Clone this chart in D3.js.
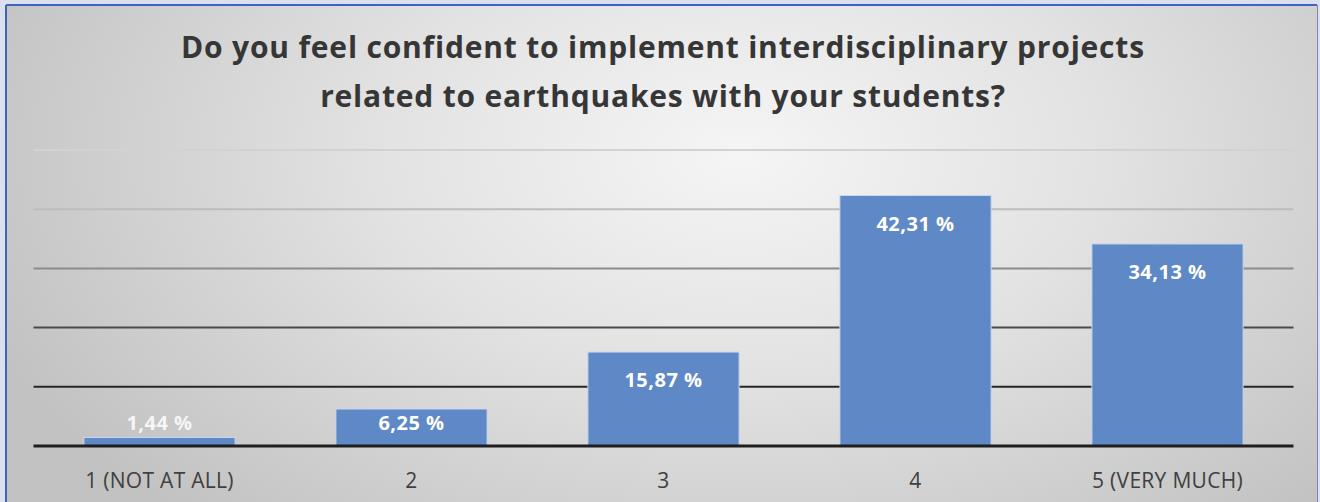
<!DOCTYPE html>
<html>
<head>
<meta charset="utf-8">
<script src="https://cdn.jsdelivr.net/npm/d3@7"></script>
<style>
html,body{margin:0;padding:0;background:#dcdff0;}
svg{display:block;}
</style>
</head>
<body>
<svg id="chart" width="1320" height="502"></svg>
<script>
const categories = ["1 (NOT AT ALL)", "2", "3", "4", "5 (VERY MUCH)"];
const values = [1.44, 6.25, 15.87, 42.31, 34.13];
const valueLabels = ["1,44 %", "6,25 %", "15,87 %", "42,31 %", "34,13 %"];
const gridTicks = [0, 10, 20, 30, 40, 50];
const titleLines = ["Do you feel confident to implement interdisciplinary projects",
                    "related to earthquakes with your students?"];

const W = 1320, H = 502;
const svg = d3.select("#chart");
const defs = svg.append("defs");
const rg = defs.append("radialGradient").attr("id", "bg")
  .attr("cx", 0.56).attr("cy", 0.3).attr("r", 0.62)
  .attr("gradientTransform", "translate(0.56,0.3) scale(1,1.6) translate(-0.56,-0.3)");
rg.append("stop").attr("offset", "0%").attr("stop-color", "#f5f5f5");
rg.append("stop").attr("offset", "45%").attr("stop-color", "#e2e2e2");
rg.append("stop").attr("offset", "100%").attr("stop-color", "#c2c2c2");

// frame
svg.append("rect").attr("x", 0).attr("y", 0).attr("width", W).attr("height", H).attr("fill", "#dcdff0");
svg.append("rect").attr("x", 6).attr("y", 5).attr("width", 1311).attr("height", H - 5).attr("fill", "url(#bg)");
svg.append("line").attr("x1", 6).attr("x2", 1317).attr("y1", 5).attr("y2", 5).attr("stroke", "#3f64bd").attr("stroke-width", 2);
svg.append("line").attr("x1", 6).attr("x2", 6).attr("y1", 5).attr("y2", H).attr("stroke", "#3f64bd").attr("stroke-width", 2);
svg.append("line").attr("x1", 1317.5).attr("x2", 1317.5).attr("y1", 5).attr("y2", H).attr("stroke", "#7e86b6").attr("stroke-width", 1);

const plot = {left: 33.5, right: 1293.5, top: 150, bottom: 446};
const x = d3.scaleBand().domain(categories).range([plot.left, plot.right]).paddingInner(0.4).paddingOuter(0.2);
const y = d3.scaleLinear().domain([0, 50]).range([plot.bottom, plot.top]);

// gridlines with darkening colour toward baseline
const gridColor = d3.scaleLinear().domain([0, 10, 20, 30, 40, 50])
  .range(["#1e1e1e", "#262626", "#4a4a4a", "#8c8c8c", "#bdbdbd", "#d2d2d2"]);
svg.append("g").selectAll("line").data(gridTicks.filter(t => t > 0)).join("line")
  .attr("x1", plot.left).attr("x2", plot.right)
  .attr("y1", d => y(d)).attr("y2", d => y(d))
  .attr("stroke", d => gridColor(d)).attr("stroke-width", 2);

// bars
svg.append("g").selectAll("rect").data(values).join("rect")
  .attr("x", (d, i) => x(categories[i]))
  .attr("y", d => y(d))
  .attr("width", x.bandwidth())
  .attr("height", d => y(0) - y(d))
  .attr("fill", "#5e88c6")
  .attr("stroke", "#c9d8ef").attr("stroke-width", 1);

// baseline
svg.append("line").attr("x1", plot.left).attr("x2", plot.right)
  .attr("y1", y(0)).attr("y2", y(0)).attr("stroke", gridColor(0)).attr("stroke-width", 3);

// value labels
svg.append("g").selectAll("text").data(values).join("text")
  .attr("x", (d, i) => x(categories[i]) + x.bandwidth() / 2)
  .attr("y", d => (y(0) - y(d) > 56 ? y(d) + 28 : y(0) - 23))
  .attr("dy", "0.35em")
  .attr("text-anchor", "middle")
  .attr("font-family", "'Open Sans', sans-serif")
  .attr("font-weight", 700)
  .attr("font-size", 20)
  .attr("letter-spacing", 0.5)
  .attr("fill", "#ffffff")
  .attr("fill-opacity", d => (y(0) - y(d) > 20 ? 1 : 0.85))
  .text((d, i) => valueLabels[i]);

// category axis
const xAxis = d3.axisBottom(x).tickSize(0).tickPadding(27);
const gx = svg.append("g").attr("transform", `translate(0,${plot.bottom})`).call(xAxis);
gx.select(".domain").remove();
gx.selectAll("text")
  .attr("font-family", "'Open Sans', sans-serif")
  .attr("font-size", 21)
  .attr("letter-spacing", 0.3)
  .attr("fill", "#404040");

// title
svg.append("g").selectAll("text").data(titleLines).join("text")
  .attr("x", 663).attr("y", (d, i) => 58 + i * 49)
  .attr("text-anchor", "middle")
  .attr("font-family", "'Open Sans', sans-serif")
  .attr("font-weight", 700)
  .attr("font-size", 30)
  .attr("letter-spacing", 0.8)
  .attr("fill", "#363636")
  .text(d => d);
</script>
</body>
</html>
